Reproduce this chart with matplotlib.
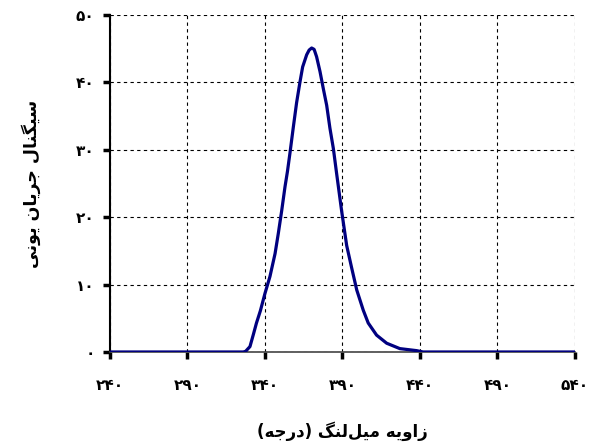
import matplotlib
matplotlib.use('Agg')
import matplotlib.pyplot as plt

# crank angle (deg) and ion current signal
angle = [240, 300, 326, 327.5, 330.3, 332.5, 334.5, 337, 340, 343.2, 346.5, 348.6,
         350.8, 352.9, 354.5, 356.1, 358.3, 360.4, 362.6, 364.3, 366.9, 368.5, 370.1,
         371.7, 373.3, 375.5, 377.6, 379.8, 381.9, 384.1, 386.2, 389.4, 392.7,
         395.9, 399.2, 403.4, 406.6, 412, 418.5, 427, 437.8, 442, 540]
signal = [0, 0, 0, 0.1, 0.8, 2.6, 4.3, 6.1, 8.7, 11.2, 14.6, 17.6,
          21.0, 24.5, 26.8, 29.5, 33.4, 37.0, 40.1, 42.3, 44.1, 44.8, 45.1,
          44.9, 43.8, 41.6, 39.1, 36.6, 33.2, 30.2, 26.5, 21.0, 15.8,
          12.5, 9.2, 6.2, 4.3, 2.5, 1.3, 0.5, 0.2, 0, 0]

xticks = [240, 290, 340, 390, 440, 490, 540]
yticks = [0, 10, 20, 30, 40, 50]
xlabel = 'زاویه میل‌لنگ (درجه)'
ylabel = 'سیگنال جریان یونی'

# isolated, final, initial, medial (None = right-joining only)
FORMS = {
    'ا': ('\uFE8D', '\uFE8E', None, None),
    'د': ('\uFEA9', '\uFEAA', None, None),
    'ر': ('\uFEAD', '\uFEAE', None, None),
    'ز': ('\uFEAF', '\uFEB0', None, None),
    'و': ('\uFEED', '\uFEEE', None, None),
    'ب': ('\uFE8F', '\uFE90', '\uFE91', '\uFE92'),
    'ج': ('\uFE9D', '\uFE9E', '\uFE9F', '\uFEA0'),
    'س': ('\uFEB1', '\uFEB2', '\uFEB3', '\uFEB4'),
    'ل': ('\uFEDD', '\uFEDE', '\uFEDF', '\uFEE0'),
    'م': ('\uFEE1', '\uFEE2', '\uFEE3', '\uFEE4'),
    'ن': ('\uFEE5', '\uFEE6', '\uFEE7', '\uFEE8'),
    'ه': ('\uFEE9', '\uFEEA', '\uFEEB', '\uFEEC'),
    'ی': ('\uFBFC', '\uFBFD', '\uFBFE', '\uFBFF'),
    'گ': ('\uFB92', '\uFB93', '\uFB94', '\uFB95'),
}


def shape(text):
    out = []
    for i, c in enumerate(text):
        if c not in FORMS:
            out.append(c)
            continue
        prev = text[i - 1] if i > 0 else None
        nxt = text[i + 1] if i + 1 < len(text) else None
        jp = prev in FORMS and FORMS[prev][2] is not None
        jn = nxt in FORMS and FORMS[c][2] is not None
        iso, fin, ini, med = FORMS[c]
        if jp and jn:
            out.append(med)
        elif jp:
            out.append(fin)
        elif jn:
            out.append(ini)
        else:
            out.append(iso)
    s = ''.join(out).replace('\u200c', '')[::-1]
    return s.translate(str.maketrans('()', ')('))


def fa_digits(n):
    return str(n).translate(str.maketrans('0123456789', '۰۱۲۳۴۵۶۷۸۹'))


plt.rcParams['font.family'] = ['DejaVu Sans']

fig = plt.figure(figsize=(5.93, 4.46), dpi=100)
ax = fig.add_axes([0.1855, 0.2108, 0.7841, 0.7556])

ax.plot(angle, signal, color='#000080', lw=2.3, zorder=3, solid_joinstyle='round')

ax.set_xlim(240, 540)
ax.set_ylim(0, 50)
ax.set_xticks(xticks)
ax.set_yticks(yticks)
ax.set_xticklabels([fa_digits(v) for v in xticks], fontsize=11, fontweight='bold')
ax.set_yticklabels([fa_digits(v) for v in yticks], fontsize=11, fontweight='bold')
ax.tick_params(axis='both', direction='out', length=5, width=2.5, color='black')
ax.tick_params(axis='x', pad=14)
ax.tick_params(axis='y', pad=6)

ax.grid(True, color='black', linestyle=(0, (3, 3)), linewidth=0.8)
for s in ['top', 'right']:
    ax.spines[s].set_visible(False)
ax.spines['left'].set_linewidth(1.5)
ax.spines['bottom'].set_linewidth(1.2)
ax.spines['bottom'].set_color('#444444')

ax.set_xlabel(shape(xlabel), fontsize=12, fontweight='bold', labelpad=20)
ax.set_ylabel(shape(ylabel), fontsize=12.5, fontweight='bold', labelpad=25)

fig.savefig('out.png', dpi=100)
